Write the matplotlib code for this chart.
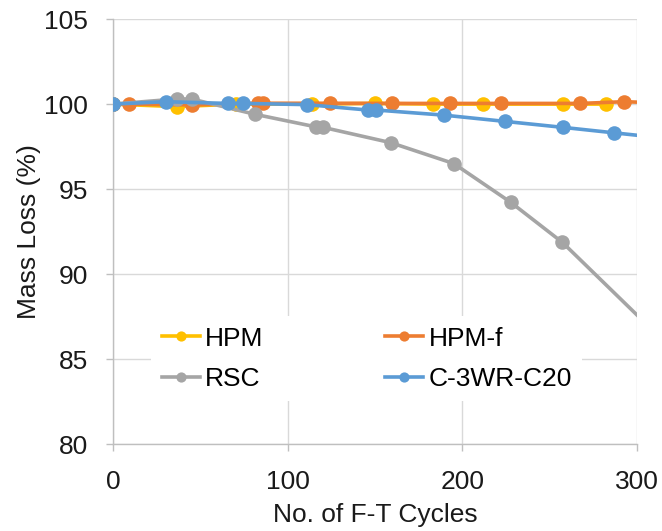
import matplotlib
matplotlib.use("Agg")
import matplotlib.pyplot as plt

plt.rcParams['font.family'] = ['Liberation Sans', 'DejaVu Sans']

# Freeze-thaw mass retention data (cycles, %)
hpm_x = [0, 36.6, 70.4, 113.7, 150, 183.3, 212, 257.8, 282.6]
hpm_y = [100, 99.85, 100.0, 100.0, 100.04, 100.0, 100.0, 100.0, 100.0]

hpmf_x = [0, 9.2, 45.2, 83, 85.9, 124.2, 159.5, 192.9, 222.1, 267.7, 292.7, 320]
hpmf_y = [100, 100, 99.95, 100.05, 100.05, 100.05, 100.04, 100.04, 100.04, 100.04, 100.14, 100.05]

rsc_x = [0, 36.4, 45, 81.3, 116.2, 120.4, 159.1, 195.2, 227.8, 257.4, 330]
rsc_y = [100, 100.3, 100.3, 99.4, 98.66, 98.63, 97.73, 96.5, 94.22, 91.86, 84.6]

c3_x = [0, 30.2, 65.8, 74.6, 110.9, 146.1, 150.9, 189.6, 224.7, 257.8, 286.9, 320]
c3_y = [100, 100.14, 100.04, 100.04, 99.97, 99.65, 99.65, 99.35, 98.98, 98.63, 98.31, 97.95]

series = [
    ("HPM", hpm_x, hpm_y, "#FFC000"),
    ("HPM-f", hpmf_x, hpmf_y, "#ED7D31"),
    ("RSC", rsc_x, rsc_y, "#A5A5A5"),
    ("C-3WR-C20", c3_x, c3_y, "#5B9BD5"),
]

x_ticks = [0, 100, 200, 300]
y_ticks = [80, 85, 90, 95, 100, 105]

FS = 19

fig = plt.figure(figsize=(6.62, 5.31), dpi=100)
ax = fig.add_axes([0.1707, 0.1638, 0.962 - 0.1707, 0.964 - 0.1638])

handles = {}
for label, xs, ys, col in series:
    line, = ax.plot(xs, ys, color=col, lw=2.6, marker="o", ms=10.5,
                    markeredgewidth=0, label=label, zorder=3)
    handles[label] = line

ax.set_xlim(0, 300)
ax.set_ylim(80, 105)
ax.set_xticks(x_ticks)
ax.set_yticks(y_ticks)
ax.grid(True, color="#d9d9d9", lw=1.0, zorder=0)
ax.set_axisbelow(True)

for side in ("top", "right"):
    ax.spines[side].set_visible(False)
for side in ("left", "bottom"):
    ax.spines[side].set_color("#bfbfbf")
    ax.spines[side].set_linewidth(1.0)

ax.tick_params(axis="both", colors="#bfbfbf", labelcolor="#1a1a1a",
               labelsize=FS, length=5, width=1)
ax.tick_params(axis="y", pad=13)
ax.tick_params(axis="x", pad=14)

ax.set_xlabel("No. of F-T Cycles", fontsize=FS, labelpad=6, color="#1a1a1a")
ax.set_ylabel("Mass Loss (%)", fontsize=FS, labelpad=2, color="#1a1a1a")

# legend filled row by row: HPM, HPM-f / RSC, C-3WR-C20
order = ["HPM", "RSC", "HPM-f", "C-3WR-C20"]
leg = ax.legend([handles[k] for k in order], order, ncol=2,
                loc="upper left", bbox_to_anchor=(151 / 662, 1 - 316 / 531),
                bbox_transform=fig.transFigure,
                frameon=True, fontsize=FS, handlelength=1.45,
                markerscale=0.7, columnspacing=4.6, handletextpad=0.2,
                labelspacing=0.62, borderpad=0.4, borderaxespad=0)
leg.get_frame().set_edgecolor("none")
leg.get_frame().set_facecolor("white")
leg.get_frame().set_alpha(1.0)
leg.set_zorder(5)

fig.savefig("out.png", dpi=100)
